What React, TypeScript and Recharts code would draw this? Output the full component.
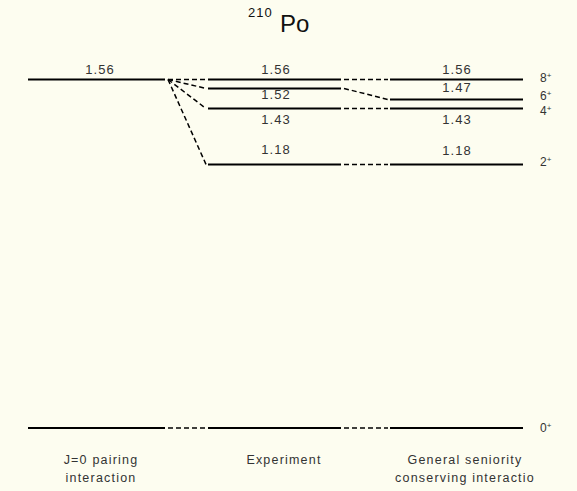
import { ComposedChart, Line, ReferenceDot, XAxis, YAxis } from "recharts";

// level energies in MeV, one entry per spin (0+, 2+, 4+, 6+, 8+)
const spins = ["0", "2", "4", "6", "8"];
const pairingEnergies = [0, 1.56, 1.56, 1.56, 1.56];
const experimentEnergies = [0, 1.18, 1.43, 1.52, 1.56];
const seniorityEnergies = [0, 1.18, 1.43, 1.47, 1.56];
const columnNames = [["J=0 pairing", "interaction"], ["Experiment"], ["General seniority", "conserving interactio"]];

// layout (pixels)
const W = 577;
const H = 491;
const colStart = [28, 208, 390];
const colEnd = [165, 341, 523];
const numLabelX = [100, 276, 457];
const nameLabelX = [101, 284, 465];
// vertical offset of each energy label from its level (negative = above)
const labelDy = [
  [null, -5, null, null, null],
  [null, -10, 15, 11, -5],
  [null, -9, 15, -8, -5],
];
const spinDy = [0, -2.5, 2.5, -3.5, -1.5];

const FONT = "'Liberation Sans', Arial, Helvetica, sans-serif";
const TEXT = "#333";
const columns = [pairingEnergies, experimentEnergies, seniorityEnergies];

const seg = (x0: number, e0: number, x1: number, e1: number) => [
  { x: x0, e: e0 },
  { x: x1, e: e1 },
];

function energyLabel(text: string, dy: number) {
  return (props: any) => {
    const vb = props.viewBox || {};
    const cx = vb.x + (vb.width || 0) / 2;
    const cy = vb.y + (vb.height || 0) / 2;
    return (
      <text x={cx} y={cy + dy} textAnchor="middle" fontFamily={FONT} fontSize={13} letterSpacing={1.1} fill={TEXT}>
        {text}
      </text>
    );
  };
}

function spinLabel(j: string, dy: number) {
  return (props: any) => {
    const vb = props.viewBox || {};
    const cy = vb.y + (vb.height || 0) / 2;
    return (
      <text x={540} y={cy + dy + 4} fontFamily={FONT} fontSize={12} fill={TEXT}>
        {j}
        <tspan fontSize={8} dy={-4}>+</tspan>
      </text>
    );
  };
}

export default function App() {
  const levels: JSX.Element[] = [];
  const labels: JSX.Element[] = [];
  columns.forEach((energies, c) => {
    energies.forEach((e, i) => {
      if (energies.indexOf(e) !== i) return;
      levels.push(
        <Line
          key={`lvl-${c}-${i}`}
          data={seg(colStart[c], e, colEnd[c], e)}
          dataKey="e"
          stroke="#000"
          strokeWidth={2}
          dot={false}
          activeDot={false}
          isAnimationActive={false}
        />
      );
      const dy = labelDy[c][i];
      if (dy != null) {
        labels.push(
          <ReferenceDot
            key={`lab-${c}-${i}`}
            x={numLabelX[c]}
            y={e}
            r={1}
            fill="none"
            stroke="none"
            label={energyLabel(e.toFixed(2), dy)}
          />
        );
      }
    });
  });

  const connectors: JSX.Element[] = [];
  spins.forEach((_, i) => {
    for (let c = 0; c < 2; c++) {
      connectors.push(
        <Line
          key={`con-${c}-${i}`}
          data={seg(colEnd[c] + 3, columns[c][i], colStart[c + 1] - 2, columns[c + 1][i])}
          dataKey="e"
          stroke="#000"
          strokeWidth={1.5}
          strokeDasharray="5 3"
          dot={false}
          activeDot={false}
          isAnimationActive={false}
        />
      );
    }
  });

  return (
    <div style={{ position: "absolute", left: 0, top: 0, width: W, height: H, background: "#fdfdf0" }}>
      <ComposedChart width={W} height={H} margin={{ top: 0, right: 0, bottom: 0, left: 0 }}>
        <XAxis type="number" dataKey="x" domain={[0, W]} allowDataOverflow hide />
        <YAxis type="number" domain={[-0.282, 1.9158]} allowDataOverflow hide />
        {connectors}
        {levels}
        {labels}
        {spins.map((j, i) => (
          <ReferenceDot
            key={`spin-${j}`}
            x={colEnd[2]}
            y={seniorityEnergies[i]}
            r={1}
            fill="none"
            stroke="none"
            label={spinLabel(j, spinDy[i])}
          />
        ))}
      </ComposedChart>
      <svg width={W} height={H} style={{ position: "absolute", left: 0, top: 0, pointerEvents: "none" }}>
        <text x={248} y={17} fontFamily={FONT} fontSize={13} letterSpacing={1} fill="#111">
          210
        </text>
        <text x={280} y={32} fontFamily={FONT} fontSize={24} fill="#111">
          Po
        </text>
        {columnNames.map((lines, c) =>
          lines.map((t, k) => (
            <text
              key={`name-${c}-${k}`}
              x={nameLabelX[c]}
              y={464 + k * 18}
              textAnchor="middle"
              fontFamily={FONT}
              fontSize={12.5}
              letterSpacing={1.2}
              fill={TEXT}
            >
              {t}
            </text>
          ))
        )}
      </svg>
    </div>
  );
}
